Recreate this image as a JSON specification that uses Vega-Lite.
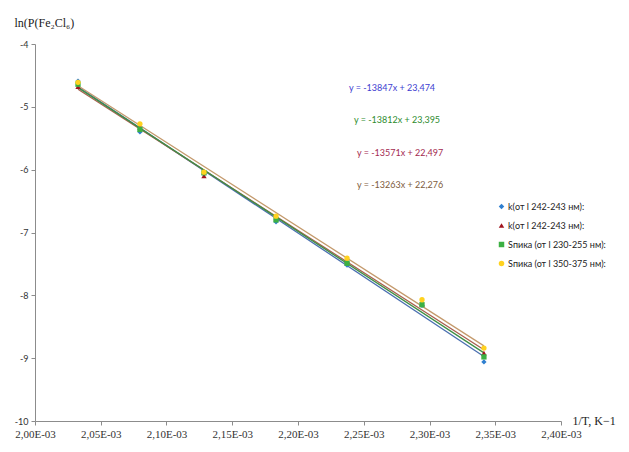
{
  "$schema": "https://vega.github.io/schema/vega-lite/v6.json",
  "width": 526,
  "height": 377,
  "autosize": {"type": "none"},
  "padding": {"left": 35, "top": 44, "right": 68, "bottom": 31},
  "background": "white",
  "config": {
    "view": {"stroke": null},
    "axis": {"grid": false, "domainColor": "#8c8c8c", "tickColor": "#8c8c8c", "tickSize": 4, "labelColor": "#333333", "labelFlush": false}
  },
  "datasets": {
    "pts": [
      {"s": "a", "x": 0.0020327, "y": -4.59},
      {"s": "a", "x": 0.0020798, "y": -5.40},
      {"s": "a", "x": 0.0021285, "y": -6.07},
      {"s": "a", "x": 0.0021833, "y": -6.83},
      {"s": "a", "x": 0.0022373, "y": -7.52},
      {"s": "a", "x": 0.0022943, "y": -8.16},
      {"s": "a", "x": 0.0023414, "y": -9.06},
      {"s": "b", "x": 0.0020327, "y": -4.68},
      {"s": "b", "x": 0.0020798, "y": -5.33},
      {"s": "b", "x": 0.0021285, "y": -6.10},
      {"s": "b", "x": 0.0021833, "y": -6.77},
      {"s": "b", "x": 0.0022373, "y": -7.45},
      {"s": "b", "x": 0.0022943, "y": -8.14},
      {"s": "b", "x": 0.0023414, "y": -8.92},
      {"s": "c", "x": 0.0020327, "y": -4.64},
      {"s": "c", "x": 0.0020798, "y": -5.36},
      {"s": "c", "x": 0.0021285, "y": -6.05},
      {"s": "c", "x": 0.0021833, "y": -6.80},
      {"s": "c", "x": 0.0022373, "y": -7.49},
      {"s": "c", "x": 0.0022943, "y": -8.15},
      {"s": "c", "x": 0.0023414, "y": -8.98},
      {"s": "d", "x": 0.0020327, "y": -4.61},
      {"s": "d", "x": 0.0020798, "y": -5.27},
      {"s": "d", "x": 0.0021285, "y": -6.04},
      {"s": "d", "x": 0.0021833, "y": -6.74},
      {"s": "d", "x": 0.0022373, "y": -7.41},
      {"s": "d", "x": 0.0022943, "y": -8.07},
      {"s": "d", "x": 0.0023414, "y": -8.84}
    ],
    "eq": [
      {"s": "a", "x": 0.0022715, "y": -4.70, "t": "y = -13847x + 23,474"},
      {"s": "b", "x": 0.0022776, "y": -5.74, "t": "y = -13571x + 22,497"},
      {"s": "c", "x": 0.0022753, "y": -5.21, "t": "y = -13812x + 23,395"},
      {"s": "d", "x": 0.0022776, "y": -6.245, "t": "y = -13263x + 22,276"}
    ]
  },
  "layer": [
    {
      "data": {"name": "pts"},
      "transform": [{"regression": "y", "on": "x", "groupby": ["s"]}],
      "mark": {"type": "line", "strokeWidth": 1.3},
      "encoding": {
        "x": {"field": "x", "type": "quantitative"},
        "y": {"field": "y", "type": "quantitative"},
        "detail": {"field": "s"},
        "stroke": {"field": "s", "type": "nominal", "legend": null,
          "scale": {"domain": ["a", "d", "b", "c"], "range": ["#4a6fb0", "#c49a6c", "#a8604e", "#3f8f45"]}}
      }
    },
    {
      "data": {"name": "pts"},
      "mark": {"type": "point", "filled": true, "opacity": 1, "size": 28},
      "encoding": {
        "x": {
          "field": "x", "type": "quantitative",
          "scale": {"domain": [0.002, 0.0024], "nice": false, "zero": false},
          "axis": {
            "values": [0.002, 0.00205, 0.0021, 0.00215, 0.0022, 0.00225, 0.0023, 0.00235, 0.0024],
            "labelExpr": "replace(format(datum.value*1000, '.2f'), '.', ',') + 'E-03'",
            "labelFont": "Liberation Serif", "labelFontSize": 11, "labelPadding": 3,
            "title": "1/T, K\u22121", "titleFont": "Liberation Serif", "titleFontSize": 12, "titleFontWeight": "normal",
            "titleColor": "#222222", "titleAngle": 0, "titleAlign": "left", "titleBaseline": "middle",
            "titleX": 537, "titleY": -1
          }
        },
        "y": {
          "field": "y", "type": "quantitative",
          "scale": {"domain": [-10, -4], "nice": false, "zero": false},
          "axis": {
            "values": [-10, -9, -8, -7, -6, -5, -4],
            "labelExpr": "datum.value < 0 ? '-' + abs(datum.value) : '' + datum.value",
            "labelFont": "Lato", "labelFontSize": 9, "labelPadding": 3,
            "title": "ln(P(Fe\u2082Cl\u2086)", "titleFont": "Liberation Serif", "titleFontSize": 12, "titleFontWeight": "normal",
            "titleColor": "#222222", "titleAngle": 0, "titleAlign": "left", "titleBaseline": "middle",
            "titleX": -21, "titleY": -22
          }
        },
        "color": {
          "field": "s", "type": "nominal",
          "scale": {"domain": ["a", "b", "c", "d"], "range": ["#2f7fd0", "#a0141e", "#3cb043", "#ffd21f"]},
          "legend": {
            "title": null, "orient": "none", "legendX": 462, "legendY": 158,
            "labelExpr": "datum.value == 'a' || datum.value == 'b' ? 'k(от l 242-243 нм):' : datum.value == 'c' ? 'Sпика (от l 230-255 нм):' : 'Sпика (от l 350-375 нм):'",
            "labelFont": "Lato", "labelFontSize": 9, "labelColor": "#222222",
            "symbolSize": 30, "rowPadding": 9, "labelOffset": 2
          }
        },
        "shape": {
          "field": "s", "type": "nominal",
          "scale": {"domain": ["a", "b", "c", "d"], "range": ["diamond", "triangle-up", "square", "circle"]},
          "legend": {
            "title": null, "orient": "none", "legendX": 462, "legendY": 158,
            "labelExpr": "datum.value == 'a' || datum.value == 'b' ? 'k(от l 242-243 нм):' : datum.value == 'c' ? 'Sпика (от l 230-255 нм):' : 'Sпика (от l 350-375 нм):'",
            "labelFont": "Lato", "labelFontSize": 9, "labelColor": "#222222",
            "symbolSize": 30, "rowPadding": 9, "labelOffset": 2
          }
        }
      }
    },
    {
      "data": {"name": "eq"},
      "mark": {"type": "text", "font": "Lato", "fontSize": 9, "align": "center", "baseline": "middle"},
      "encoding": {
        "x": {"field": "x", "type": "quantitative"},
        "y": {"field": "y", "type": "quantitative"},
        "text": {"field": "t"},
        "fill": {"field": "s", "type": "nominal", "legend": null,
          "scale": {"domain": ["a", "b", "c", "d"], "range": ["#3d3dd0", "#a3294f", "#2e8c2e", "#7d5c3c"]}}
      }
    }
  ]
}
